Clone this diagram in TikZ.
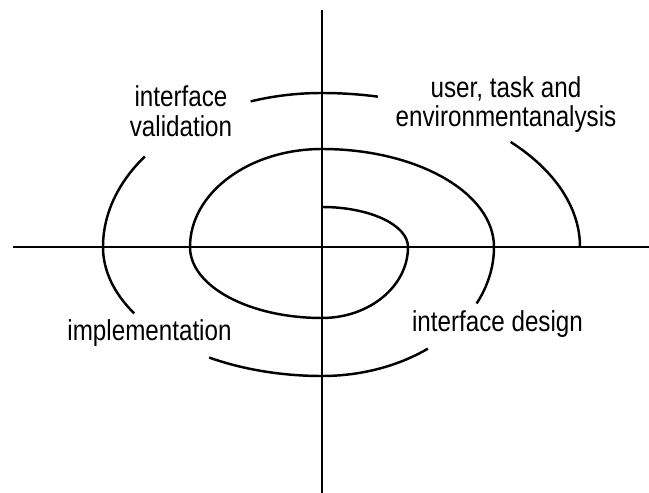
\documentclass[tikz,border=0pt]{standalone}
\usepackage{fontspec}
\setmainfont{Liberation Sans}[FakeStretch=0.84]

\begin{document}
\begin{tikzpicture}[x=0.02cm,y=0.02cm,axis/.style={line width=1.2pt},turn/.style={line width=1.4pt},phase/.style={font=\fontsize{16.4}{17}\selectfont, align=center, inner sep=0pt}]
\useasboundingbox (-322,-246) rectangle (327,247);
\coordinate (west) at (-309,0);\coordinate (east) at (327,0);\coordinate (north) at (0,237);\coordinate (south) at (0,-246);
\draw[axis] (west) -- (east);\draw[axis] (north) -- (south);
% inner turns
\draw[turn] (0,40) arc[start angle=90, end angle=0, x radius=86, y radius=40] arc[start angle=0, end angle=-90, x radius=86, y radius=71] arc[start angle=-90, end angle=-180, x radius=132, y radius=71] arc[start angle=180, end angle=90, x radius=132, y radius=98] arc[start angle=90, end angle=0, x radius=172, y radius=98] arc[start angle=0, end angle=-26, x radius=172, y radius=129];
% outer turn, broken at the labels
\draw[turn] ([shift={(-52:172 and 129)}]0,0) arc[start angle=-52, end angle=-90, x radius=172, y radius=129] arc[start angle=-90, end angle=-121, x radius=219, y radius=129];
\draw[turn] ([shift={(-149:219 and 129)}]0,0) arc[start angle=-149, end angle=-180, x radius=219, y radius=129] arc[start angle=180, end angle=144, x radius=219, y radius=154];
\draw[turn] ([shift={(109:219 and 154)}]0,0) arc[start angle=109, end angle=90, x radius=219, y radius=154] arc[start angle=90, end angle=77.5, x radius=258, y radius=154];
\draw[turn] ([shift={(43:258 and 154)}]0,0) arc[start angle=43, end angle=0, x radius=258, y radius=154];
\node[phase] (validation) at (-141,135.5) {interface\\validation};
\node[phase] (analysis) at (184,142.5) {user, task and\\environmentanalysis};
\node[phase, anchor=base] (implementation) at (-172.5,-94) {implementation};
\node[phase, anchor=base] (design) at (175.5,-85) {interface design};
\end{tikzpicture}
\end{document}
